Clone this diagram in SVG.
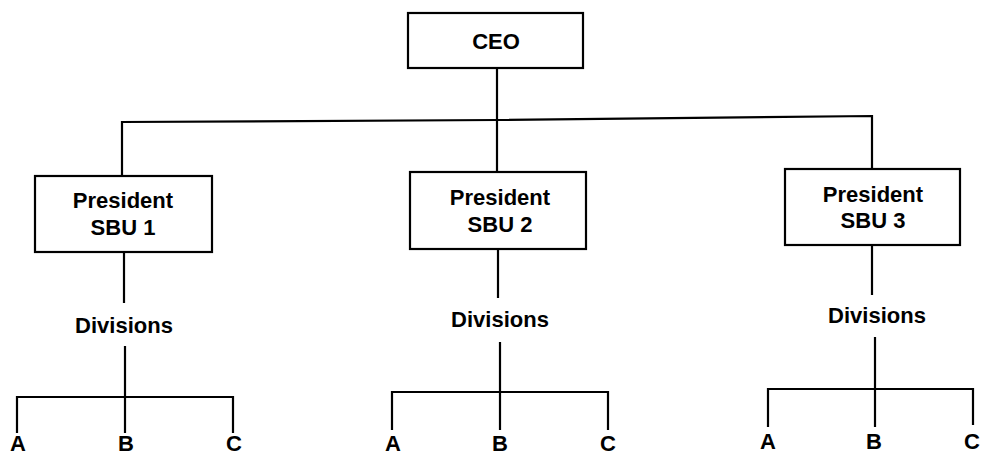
<svg xmlns="http://www.w3.org/2000/svg" width="982" height="457" viewBox="0 0 982 457">
<style>
.box{fill:#fff;stroke:#000;stroke-width:2.2}
.ln{fill:none;stroke:#000;stroke-width:2.2}
text{font-family:"Liberation Sans",Arial,sans-serif;font-weight:bold;font-size:22px;fill:#000;text-anchor:middle}
</style>
<rect width="982" height="457" fill="#fff"/>
<g id="connectors">
<polyline class="ln" points="497,68 497,120"/>
<polyline class="ln" points="122,176 122,122 497,120 872,116 872,169"/>
<polyline class="ln" points="497,120 497,172"/>
<polyline class="ln" points="124,252 124,303"/>
<polyline class="ln" points="125,346 125,397"/>
<polyline class="ln" points="17,433 17,397 233,397 233,433"/>
<polyline class="ln" points="125,397 125,433"/>
<polyline class="ln" points="498,249 498,298"/>
<polyline class="ln" points="500,342 500,392"/>
<polyline class="ln" points="392,430 392,392 608,392 608,430"/>
<polyline class="ln" points="500,392 500,430"/>
<polyline class="ln" points="872,245 872,295"/>
<polyline class="ln" points="875,337 875,389"/>
<polyline class="ln" points="768,427 768,389 973,389 973,425"/>
<polyline class="ln" points="875,389 875,427"/>
</g>
<g id="ceo">
<rect class="box" x="408" y="13" width="175" height="55"/>
<text x="496" y="49">CEO</text>
</g>
<g id="sbu1">
<rect class="box" x="35" y="176" width="177" height="76"/>
<text x="123" y="208">President</text>
<text x="123" y="235">SBU 1</text>
</g>
<g id="sbu2">
<rect class="box" x="410" y="172" width="176" height="77"/>
<text x="500" y="205">President</text>
<text x="500" y="232">SBU 2</text>
</g>
<g id="sbu3">
<rect class="box" x="785" y="169" width="175" height="76"/>
<text x="873" y="202">President</text>
<text x="873" y="228">SBU 3</text>
</g>
<g id="div1"><text x="124" y="333">Divisions</text></g>
<g id="div2"><text x="500" y="327">Divisions</text></g>
<g id="div3"><text x="877" y="323">Divisions</text></g>
<g id="div1a"><text x="18" y="451">A</text></g>
<g id="div1b"><text x="126" y="451">B</text></g>
<g id="div1c"><text x="234" y="451">C</text></g>
<g id="div2a"><text x="393" y="451">A</text></g>
<g id="div2b"><text x="500" y="451">B</text></g>
<g id="div2c"><text x="608" y="451">C</text></g>
<g id="div3a"><text x="768" y="449">A</text></g>
<g id="div3b"><text x="874" y="449">B</text></g>
<g id="div3c"><text x="972" y="449">C</text></g>
</svg>
